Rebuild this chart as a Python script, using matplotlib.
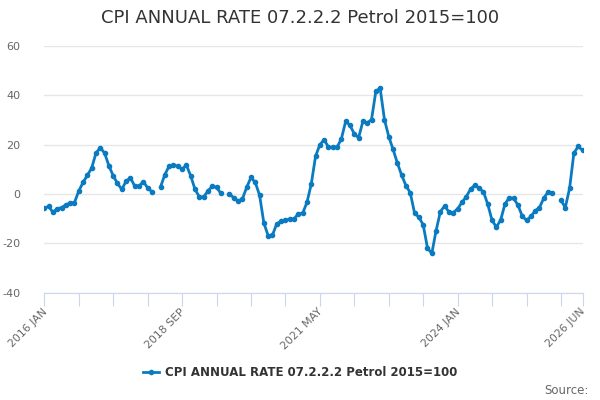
import numpy as np
import pandas as pd
import matplotlib
matplotlib.use("Agg")
import matplotlib.pyplot as plt
import matplotlib.transforms as mtransforms
from matplotlib.lines import Line2D

title = "CPI ANNUAL RATE 07.2.2.2 Petrol 2015=100"
series_name = "CPI ANNUAL RATE 07.2.2.2 Petrol 2015=100"
start_month = "2016-01-01"
values = [
    -5.8, -5.0, -7.4, -6.0, -5.5, -4.4, -3.6, -3.5, 1.2, 4.7, 7.6, 10.5,
    16.6, 18.8, 16.6, 11.5, 7.4, 4.3, 1.9, 5.2, 6.6, 3.2, 3.2, 5.0,
    2.5, 0.9, np.nan, 2.9, 7.9, 11.3, 11.7, 11.3, 10.1, 11.7, 7.4, 1.9,
    -1.1, -1.2, 1.2, 3.2, 2.7, 0.3, np.nan, 0.0, -1.5, -2.8, -2.0, 2.7,
    6.7, 4.7, -0.5, -11.8, -16.9, -16.6, -12.0, -11.1, -10.5, -10.2, -10.1, -8.0,
    -7.8, -3.4, 4.0, 15.3, 20.0, 22.0, 19.0, 19.0, 19.0, 22.4, 29.5, 27.8,
    24.4, 22.8, 29.5, 28.8, 30.2, 41.6, 42.9, 30.2, 23.3, 18.1, 12.6, 7.6,
    3.4, 0.5, -7.8, -9.4, -12.5, -21.9, -24.1, -14.8, -7.1, -4.8, -7.4, -7.5,
    -6.0, -3.4, -1.1, 2.0, 3.6, 2.3, 0.9, -4.2, -10.7, -13.4, -10.5, -4.0,
    -1.5, -1.7, -4.5, -8.9, -10.7, -9.1, -6.8, -5.5, -1.7, 0.9, 0.5, np.nan,
    -2.5, -5.5, 2.3, 16.6, 19.3, 17.7,
]
y_ticks = [-40, -20, 0, 20, 40, 60]
tick_every = 8
label_every = 32

dates = pd.date_range(start_month, periods=len(values), freq="MS")
x = np.arange(len(values))
month_labels = [f"{d.year} {d.strftime('%b').upper()}" for d in dates]

fig = plt.figure(figsize=(6, 4), dpi=100)
ax = fig.add_axes([44.3 / 600, 1 - 292.7 / 400, (582.5 - 44.3) / 600,
                   (292.7 - 46) / 400])

color = "#0a7bc1"
ax.plot(x, values, color=color, lw=2, marker="o", ms=3.0, zorder=3,
        solid_joinstyle="round")

ax.set_xlim(0, len(values) - 1)
ax.set_ylim(y_ticks[0], y_ticks[-1])
ax.set_yticks(y_ticks)
ax.set_yticklabels([str(v) for v in y_ticks], color="#666666", fontsize=8)
ax.grid(axis="y", color="#e6e6e6", lw=1)
ax.set_axisbelow(True)
for s in ["top", "right", "left"]:
    ax.spines[s].set_visible(False)
ax.spines["bottom"].set_color("#ccd6eb")
ax.tick_params(axis="y", length=0, pad=17)

major = list(range(0, len(values), tick_every)) + [len(values) - 1]
ax.set_xticks(major)
labels = []
for m in major:
    if m % label_every == 0 or m == len(values) - 1:
        labels.append(month_labels[m])
    else:
        labels.append("")
ax.set_xticklabels(labels, rotation=45, ha="right", va="top",
                   rotation_mode="anchor", color="#666666", fontsize=7.8)
ax.tick_params(axis="x", length=9, color="#ccd6eb", pad=1)
offset = mtransforms.ScaledTranslation(-2.5 / 100, 0, fig.dpi_scale_trans)
for lbl in ax.get_xticklabels():
    lbl.set_transform(lbl.get_transform() + offset)

fig.text(0.5, 1 - 18 / 400, title, ha="center", va="center", fontsize=13,
         color="#333333")

handle = Line2D([], [], color=color, lw=2, marker="o", ms=3.0)
leg = fig.legend([handle], [series_name], loc="center",
                 bbox_to_anchor=(0.5, 1 - 373 / 400), frameon=False,
                 numpoints=1, handlelength=1.4, handletextpad=0.5,
                 prop={"weight": "bold", "size": 8.5})
for t in leg.get_texts():
    t.set_color("#333333")

fig.text(589 / 600, 1 - 390 / 400, "Source:", ha="right", va="center",
         fontsize=8.5, color="#666666")

fig.savefig("out.png", dpi=100)
